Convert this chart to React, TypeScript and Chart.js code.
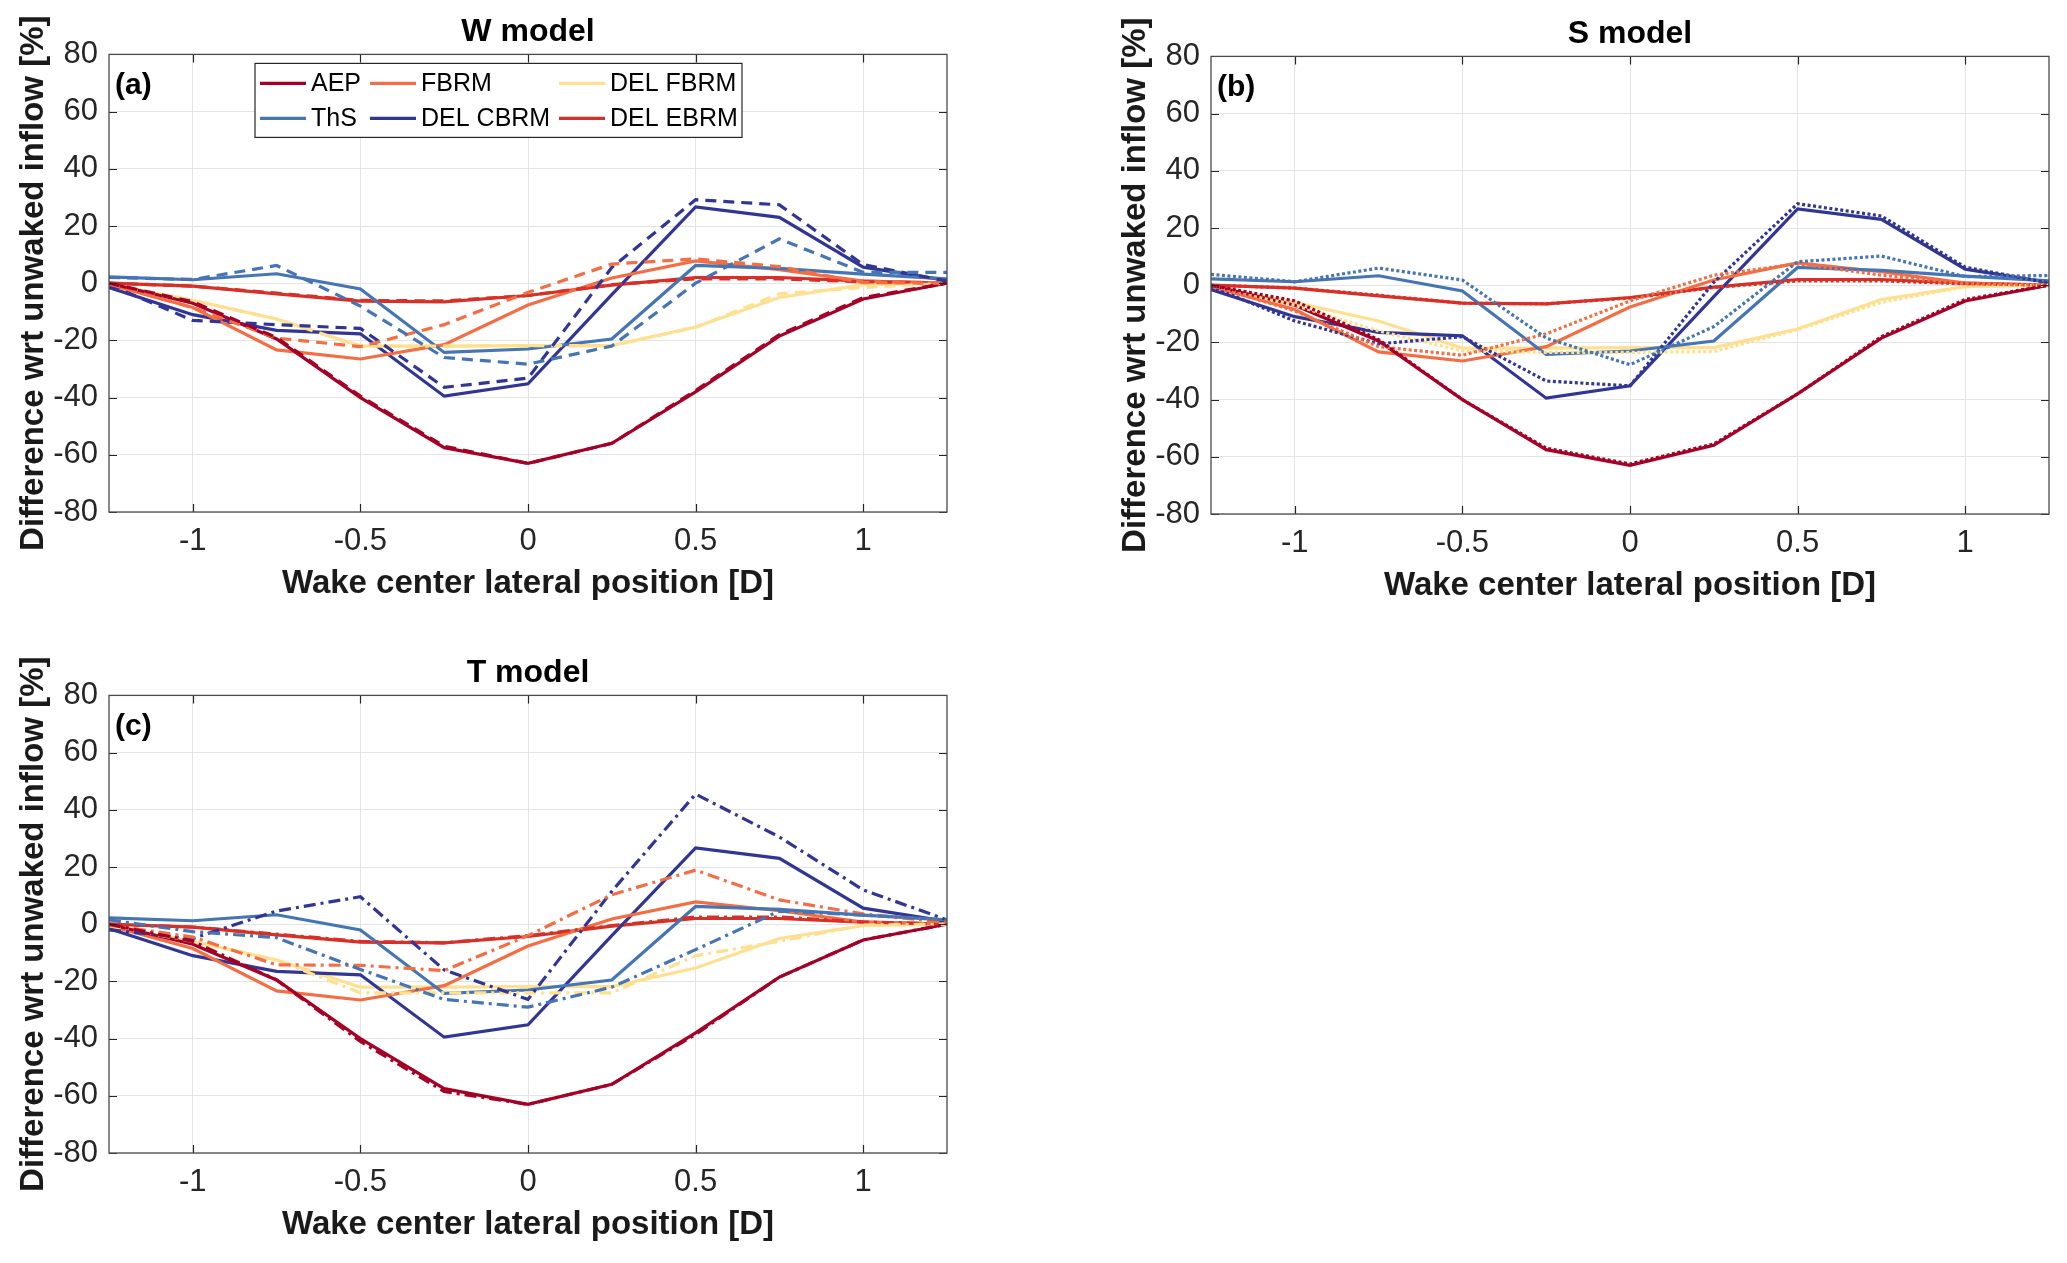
import React, { useEffect, useRef } from "react";
import { Chart, registerables } from "chart.js";

Chart.register(...registerables);

// ---------------- data ----------------
const xValues = [-1.25, -1, -0.75, -0.5, -0.25, 0, 0.25, 0.5, 0.75, 1, 1.25];
const xTickValues = [-1, -0.5, 0, 0.5, 1];
const yTickValues = [-80, -60, -40, -20, 0, 20, 40, 60, 80];

const seriesNames = ["AEP", "ThS", "FBRM", "DEL CBRM", "DEL FBRM", "DEL EBRM"];
const seriesColors = ["#a50026", "#4575b4", "#f46d43", "#313695", "#fee090", "#d73027"];
const legendRows = [
  ["AEP", "FBRM", "DEL FBRM"],
  ["ThS", "DEL CBRM", "DEL EBRM"],
];

// solid (reference) curves, identical in all panels
const aepBase = [0, -7, -19.5, -40, -57.5, -63, -56, -38, -18.5, -5.5, 0];
const thsBase = [2.2, 1.2, 3.3, -2, -24.2, -23, -19.5, 6.2, 5.2, 3.2, 1.5];
const fbrmBase = [-0.5, -8.5, -23.3, -26.5, -21.5, -7.6, 1.8, 7.8, 4.7, 0.7, 0];
const delCbrmBase = [-1.5, -11, -16.5, -17.7, -39.5, -35.2, -4, 26.7, 23, 5.6, 1];
const delFbrmBase = [-0.5, -6, -12.5, -22, -22, -21.8, -21.8, -15.3, -5, -0.5, 0];
const delEbrmBase = [0, -1, -3.7, -6.3, -6.5, -4.3, -0.7, 2, 2, 0.7, 0];

// W model (dashed)
const aepW = [0, -6.5, -19, -39.5, -57, -63, -56, -37.5, -18, -5, 0];
const thsW = [2, 1.3, 6.2, -8, -26, -28.3, -22, 0, 15.5, 3.8, 3.8];
const fbrmW = [-0.3, -8.5, -19.2, -22.2, -14.5, -3.2, 6.7, 8.5, 5.8, 0.2, 0];
const delCbrmW = [-0.5, -13, -14.5, -15.8, -36.4, -33.2, 5.5, 29.2, 27.4, 6.5, 0.7];
const delFbrmW = [-0.5, -6, -12.5, -22, -22, -21.8, -21.8, -15.5, -3.7, -1.5, 0];
const delEbrmW = [0, -1, -3.5, -6, -6.2, -4.3, -0.5, 1.5, 1.5, 0.5, 0];

// S model (dotted)
const aepS = [0, -5.5, -19, -40, -57, -62.5, -55.5, -38, -18, -5, 0];
const thsS = [3.8, 1.2, 6, 1.8, -18.5, -27.8, -14.5, 8.2, 10.2, 3, 3.4];
const fbrmS = [0, -9, -21.5, -24.5, -17, -5.5, 3.5, 7.5, 3.5, 0.5, 0];
const delCbrmS = [-0.5, -12.5, -20.5, -18, -33.5, -35.2, 1, 28.5, 24.2, 6.3, 0.8];
const delFbrmS = [-0.5, -7, -16, -23, -23.5, -23.5, -23.2, -15.5, -6, -0.5, 0];
const delEbrmS = [0, -1, -3.5, -6.3, -6.5, -4.5, -0.8, 1.5, 1.5, 0.5, 0];

// T model (dash-dot)
const aepT = [0, -6, -19.5, -41, -58.5, -63, -56, -38.5, -18.5, -5.5, 0];
const thsT = [1.5, -2.6, -4.7, -15.8, -26.3, -29, -22, -8.9, 4.6, 3.2, 1.5];
const fbrmT = [-0.3, -4.5, -14.2, -14.4, -16.2, -4, 10.3, 18.9, 8.5, 3.6, 0.6];
const delCbrmT = [-2, -5, 4.6, 9.6, -16, -26.3, 11.5, 45.5, 30.5, 12, 1.5];
const delFbrmT = [-0.5, -6, -12.5, -24, -24, -24, -24, -11, -6, -0.3, 0];
const delEbrmT = [0, -1, -3.5, -6, -6.5, -4, -0.5, 2.5, 2.5, 0.8, 0];

const baseSeries = [aepBase, thsBase, fbrmBase, delCbrmBase, delFbrmBase, delEbrmBase];

const FONT = '"Liberation Sans", Arial, Helvetica, sans-serif';
const W = 1000;
const H = 620;
const LW = 3.2;

type PanelSpec = {
  title: string;
  tag: string;
  dash: number[];
  variant: number[][];
  left: number;
  top: number;
  legend: boolean;
};

const panels: PanelSpec[] = [
  { title: "W model", tag: "(a)", dash: [11, 7], variant: [aepW, thsW, fbrmW, delCbrmW, delFbrmW, delEbrmW], left: 0, top: 0, legend: true },
  { title: "S model", tag: "(b)", dash: [3, 2.5], variant: [aepS, thsS, fbrmS, delCbrmS, delFbrmS, delEbrmS], left: 1102, top: 2, legend: false },
  { title: "T model", tag: "(c)", dash: [12, 5, 3, 5], variant: [aepT, thsT, fbrmT, delCbrmT, delFbrmT, delEbrmT], left: 0, top: 641, legend: false },
];

const framePlugin = {
  id: "frame",
  afterDraw(chart: any, _args: any, opts: any) {
    const { ctx, chartArea: a, scales } = chart;
    ctx.save();
    const tl = 8;
    ctx.strokeStyle = "#262626";
    ctx.lineWidth = 1.2;
    ctx.beginPath();
    scales.x.ticks.forEach((t: any) => {
      const px = Math.round(scales.x.getPixelForValue(t.value)) + 0.5;
      ctx.moveTo(px, a.bottom);
      ctx.lineTo(px, a.bottom - tl);
      ctx.moveTo(px, a.top);
      ctx.lineTo(px, a.top + tl);
    });
    scales.y.ticks.forEach((t: any) => {
      const py = Math.round(scales.y.getPixelForValue(t.value)) + 0.5;
      ctx.moveTo(a.left, py);
      ctx.lineTo(a.left + tl, py);
      ctx.moveTo(a.right, py);
      ctx.lineTo(a.right - tl, py);
    });
    ctx.stroke();
    ctx.lineWidth = 1.3;
    ctx.strokeStyle = "#4a4a4a";
    ctx.strokeRect(a.left, a.top, a.right - a.left, a.bottom - a.top);

    // panel tag
    ctx.fillStyle = "#000";
    ctx.font = `bold 30px ${FONT}`;
    ctx.textAlign = "left";
    ctx.textBaseline = "middle";
    ctx.fillText(opts.tag, a.left + 6, a.top + 31);

    if (opts.legend) {
      const bx = a.left + 146;
      const by = a.top + 9;
      const bw = 487;
      const bh = 74;
      ctx.fillStyle = "#fff";
      ctx.fillRect(bx, by, bw, bh);
      ctx.strokeStyle = "#262626";
      ctx.lineWidth = 1.2;
      ctx.strokeRect(bx, by, bw, bh);
      const colOff = [5, 115, 304];
      const rowOff = [20, 55];
      ctx.font = `25px ${FONT}`;
      ctx.textBaseline = "middle";
      legendRows.forEach((row, r) => {
        row.forEach((name, c) => {
          const idx = seriesNames.indexOf(name);
          const x0 = bx + colOff[c];
          const y0 = by + rowOff[r];
          ctx.strokeStyle = seriesColors[idx];
          ctx.lineWidth = LW;
          ctx.beginPath();
          ctx.moveTo(x0, y0);
          ctx.lineTo(x0 + 46, y0);
          ctx.stroke();
          ctx.fillStyle = "#000";
          ctx.fillText(name, x0 + 51, y0 + 1);
        });
      });
    }
    ctx.restore();
  },
};

function makeConfig(spec: PanelSpec): any {
  const datasets: any[] = [];
  baseSeries.forEach((vals, i) => {
    datasets.push({
      label: seriesNames[i],
      data: xValues.map((x, j) => ({ x, y: vals[j] })),
      borderColor: seriesColors[i],
      backgroundColor: seriesColors[i],
      borderWidth: LW,
      pointRadius: 0,
      tension: 0,
      fill: false,
      order: 1,
    });
  });
  spec.variant.forEach((vals, i) => {
    datasets.push({
      label: seriesNames[i] + " " + spec.title,
      data: xValues.map((x, j) => ({ x, y: vals[j] })),
      borderColor: seriesColors[i],
      backgroundColor: seriesColors[i],
      borderWidth: LW,
      borderDash: spec.dash,
      pointRadius: 0,
      tension: 0,
      fill: false,
      order: 0,
    });
  });

  return {
    type: "line",
    data: { datasets },
    plugins: [framePlugin],
    options: {
      animation: false,
      responsive: false,
      devicePixelRatio: 1,
      events: [],
      layout: { padding: { left: 0, right: 53, top: 0, bottom: 0 } },
      plugins: {
        legend: { display: false },
        tooltip: { enabled: false },
        title: {
          display: true,
          text: spec.title,
          fullSize: false,
          color: "#000",
          font: { family: FONT, size: 32, weight: "bold", lineHeight: 1.2 },
          padding: { top: 13, bottom: 3 },
        },
        frame: { tag: spec.tag, legend: spec.legend },
      },
      scales: {
        x: {
          type: "linear",
          min: -1.25,
          max: 1.25,
          afterBuildTicks: (s: any) => {
            s.ticks = xTickValues.map((v) => ({ value: v }));
          },
          afterFit: (s: any) => {
            s.height = 108;
          },
          ticks: {
            color: "#262626",
            font: { family: FONT, size: 31 },
            padding: 11,
            maxRotation: 0,
            autoSkip: false,
            callback: (v: any) => String(v),
          },
          grid: { color: "#e4e4e4", lineWidth: 1, drawTicks: false },
          border: { display: false },
          title: {
            display: true,
            text: "Wake center lateral position [D]",
            color: "#1a1a1a",
            font: { family: FONT, size: 33, weight: "bold", lineHeight: 1.2 },
            padding: { top: 0, bottom: 16 },
          },
        },
        y: {
          type: "linear",
          min: -80,
          max: 80,
          afterBuildTicks: (s: any) => {
            s.ticks = yTickValues.map((v) => ({ value: v }));
          },
          afterFit: (s: any) => {
            s.width = 109;
          },
          ticks: {
            color: "#262626",
            font: { family: FONT, size: 31 },
            padding: 11,
            autoSkip: false,
            callback: (v: any) => String(v),
          },
          grid: { color: "#e4e4e4", lineWidth: 1, drawTicks: false },
          border: { display: false },
          title: {
            display: true,
            text: "Difference wrt unwaked inflow [%]",
            color: "#1a1a1a",
            font: { family: FONT, size: 33, weight: "bold", lineHeight: 1.2 },
            padding: { top: 14, bottom: 0 },
          },
        },
      },
    },
  };
}

function Panel({ spec }: { spec: PanelSpec }) {
  const ref = useRef<HTMLCanvasElement | null>(null);
  useEffect(() => {
    if (!ref.current) return;
    const chart = new Chart(ref.current, makeConfig(spec));
    return () => chart.destroy();
  }, [spec]);
  return (
    <canvas
      ref={ref}
      width={W}
      height={H}
      style={{ position: "absolute", left: spec.left, top: spec.top, width: W, height: H }}
    />
  );
}

export default function App() {
  return (
    <div style={{ position: "absolute", left: 0, top: 0, width: 2067, height: 1263, background: "#fff" }}>
      {panels.map((p) => (
        <Panel key={p.tag} spec={p} />
      ))}
    </div>
  );
}
